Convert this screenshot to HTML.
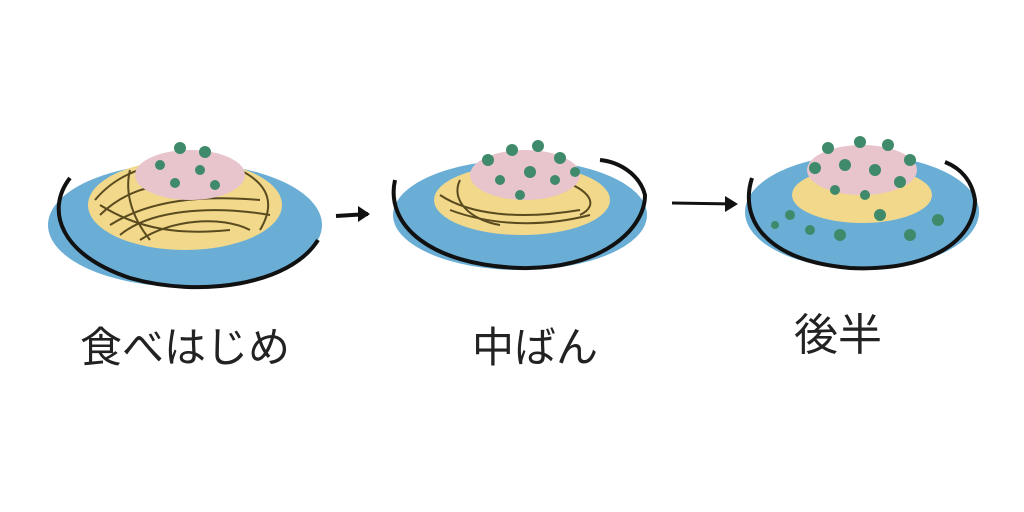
<!DOCTYPE html>
<html><head><meta charset="utf-8"><style>
html,body{margin:0;padding:0;background:#fff;}
svg{display:block;}
text{font-family:"Liberation Sans","Noto Sans CJK JP",sans-serif;fill:#222;}
</style></head><body>
<svg width="1024" height="512" viewBox="0 0 1024 512" xmlns="http://www.w3.org/2000/svg">
<rect width="1024" height="512" fill="#fff"/>
<!-- Plate 1 -->
<ellipse cx="185" cy="225" rx="137" ry="62" fill="#6aaed6"/>
<path d="M70,178 C45,210 60,255 130,278 C200,298 290,285 318,240" fill="none" stroke="#111" stroke-width="4"/>
<ellipse cx="185" cy="205" rx="97" ry="45" fill="#f1d88a"/>
<g stroke="#5a4a20" stroke-width="2" fill="none">
<path d="M95,200 C120,170 160,160 190,165"/><path d="M100,215 C130,185 170,180 210,185"/>
<path d="M110,225 C150,200 200,195 260,200"/><path d="M120,235 C150,210 210,205 270,215"/>
<path d="M140,240 C170,220 220,215 250,230"/><path d="M100,205 C140,230 180,235 230,230"/>
<path d="M240,170 C270,185 275,205 260,230"/><path d="M130,170 C125,190 130,215 150,240"/>
</g>
<ellipse cx="190" cy="175" rx="55" ry="25" fill="#e8c4cc"/>
<g fill="#3e8a6a"><circle cx="180" cy="148" r="6"/><circle cx="205" cy="152" r="6"/><circle cx="160" cy="165" r="5"/><circle cx="200" cy="170" r="5"/><circle cx="215" cy="185" r="5"/><circle cx="175" cy="183" r="5"/></g>
<!-- Arrow 1 -->
<path d="M336,216 L368,214" stroke="#111" stroke-width="4"/>
<path d="M358,206 L370,214 L358,222 Z" fill="#111"/>
<!-- Plate 2 -->
<ellipse cx="520" cy="215" rx="127" ry="55" fill="#6aaed6"/>
<path d="M395,180 C385,225 430,265 520,268 C600,270 645,230 645,195 C640,175 620,162 600,160" fill="none" stroke="#111" stroke-width="4"/>
<ellipse cx="522" cy="200" rx="88" ry="35" fill="#f1d88a"/>
<g stroke="#5a4a20" stroke-width="2" fill="none">
<path d="M440,195 C470,215 520,220 580,210"/><path d="M450,210 C490,225 540,228 590,215"/>
<path d="M460,180 C450,200 470,220 500,225"/><path d="M560,180 C590,190 600,205 580,215"/>
</g>
<ellipse cx="525" cy="175" rx="55" ry="25" fill="#e8c4cc"/>
<g fill="#3e8a6a"><circle cx="488" cy="160" r="6"/><circle cx="512" cy="150" r="6"/><circle cx="538" cy="146" r="6"/><circle cx="560" cy="158" r="6"/><circle cx="500" cy="180" r="5"/><circle cx="530" cy="172" r="6"/><circle cx="555" cy="180" r="5"/><circle cx="520" cy="195" r="5"/><circle cx="575" cy="172" r="5"/></g>
<!-- Arrow 2 -->
<path d="M672,203 L735,204" stroke="#111" stroke-width="3"/>
<path d="M725,196 L738,204 L725,212 Z" fill="#111"/>
<!-- Plate 3 -->
<ellipse cx="862" cy="212" rx="117" ry="57" fill="#6aaed6"/>
<path d="M752,178 C740,215 760,260 850,268 C930,272 975,240 975,200 C972,180 960,168 945,162" fill="none" stroke="#111" stroke-width="4"/>
<ellipse cx="862" cy="195" rx="70" ry="28" fill="#f1d88a"/>
<ellipse cx="862" cy="170" rx="55" ry="25" fill="#e8c4cc"/>
<g fill="#3e8a6a"><circle cx="828" cy="148" r="6"/><circle cx="860" cy="142" r="6"/><circle cx="888" cy="145" r="6"/><circle cx="910" cy="160" r="6"/><circle cx="815" cy="168" r="6"/><circle cx="845" cy="165" r="6"/><circle cx="875" cy="170" r="6"/><circle cx="900" cy="182" r="6"/><circle cx="835" cy="190" r="5"/><circle cx="865" cy="195" r="5"/><circle cx="790" cy="215" r="5"/><circle cx="810" cy="230" r="5"/><circle cx="840" cy="235" r="6"/><circle cx="880" cy="215" r="6"/><circle cx="910" cy="235" r="6"/><circle cx="938" cy="220" r="6"/><circle cx="775" cy="225" r="4"/></g>
<!-- Labels -->
<text x="80" y="362" font-size="42">食べはじめ</text>
<text x="472" y="362" font-size="42">中ばん</text>
<text x="794" y="350" font-size="44">後半</text>
</svg>
</body></html>
